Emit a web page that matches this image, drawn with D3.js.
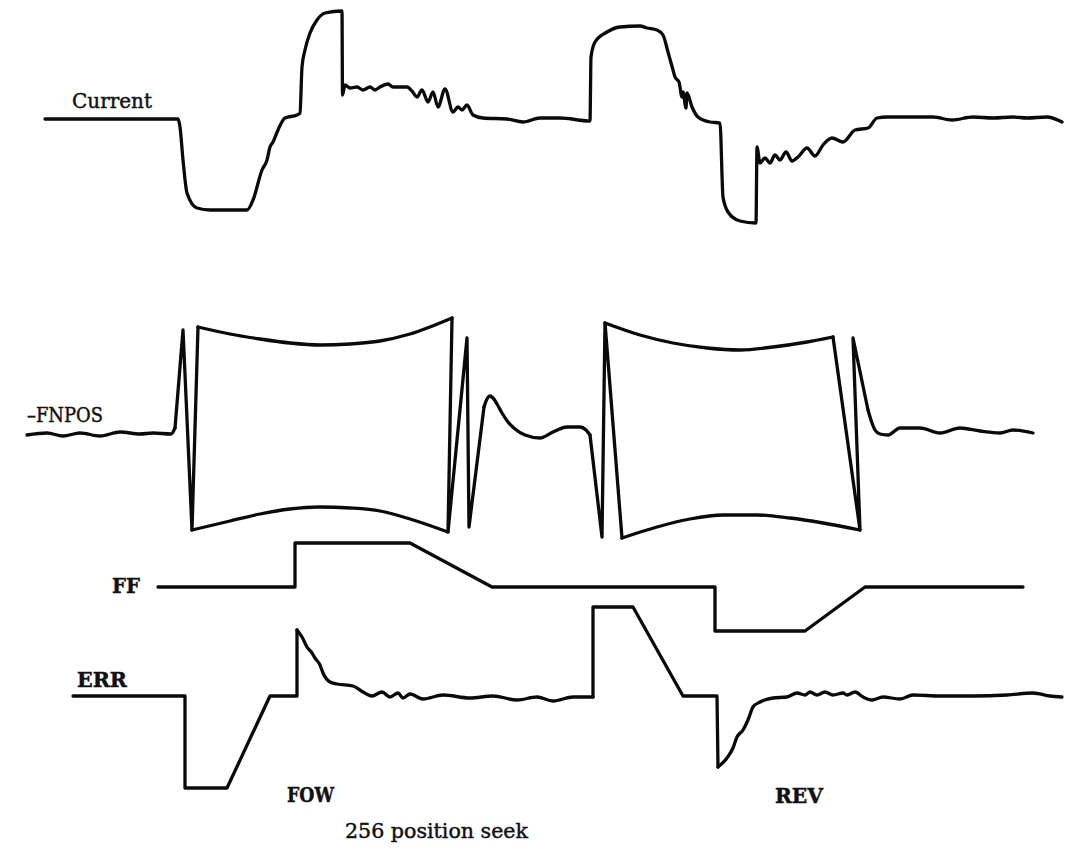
<!DOCTYPE html>
<html>
<head>
<meta charset="utf-8">
<script src="https://cdn.jsdelivr.net/npm/d3@7"></script>
<style>
  html, body { margin: 0; padding: 0; background: #fff; }
  svg { display: block; }
  text { font-family: "DejaVu Serif", "Liberation Serif", serif; fill: #111; stroke: #111; stroke-width: 0.45; }
</style>
</head>
<body>
<div id="chart"></div>
<script>
// Oscilloscope traces for a 256-position seek (forward, then reverse).
// Each point is [time (ms), level (div)].

const currentTrace = [
  [2.0, 0], [15.3, 0], [15.5, -0.8], [15.8, -4.1], [16.2, -7.4], [17.2, -8.9], [18.5, -9.1],
  [22.2, -9.1], [22.8, -8.1], [23.7, -5.1], [24.2, -4.1], [24.5, -2.8], [24.8, -2.3],
  [25.3, -1.1], [26.0, 0.1], [27.2, 0.4], [27.5, 0.6], [27.7, 5.2], [28.0, 6.9], [28.5, 8.6],
  [29.2, 9.9], [30.0, 10.6], [31.7, 10.8], [31.75, 2.4], [32.0, 3.4], [32.5, 3.1], [33.2, 3.2],
  [33.8, 2.9], [34.5, 3.2], [35.0, 2.9], [35.5, 3.2], [36.3, 3.5], [36.8, 3.2], [38.2, 3.2],
  [38.7, 2.8], [39.2, 2.2], [39.7, 2.9], [40.3, 1.7], [40.8, 2.7], [41.3, 1.2], [42.0, 3.0],
  [42.8, 0.7], [43.3, 1.2], [43.7, 0.9], [44.2, 1.4], [44.8, 0.4], [45.8, 0.1], [48.2, 0],
  [49.8, -0.3], [51.5, 0.1], [53.5, 0.1], [56.5, -0.2], [56.6, 6.2], [57.0, 7.7], [58.2, 8.7],
  [59.5, 9.2], [61.5, 9.3], [62.2, 9.1], [63.2, 8.9], [63.8, 8.4], [64.3, 6.7], [64.8, 4.9],
  [65.0, 4.2], [65.4, 3.7], [65.7, 2.2], [65.8, 2.7], [66.1, 1.1], [66.2, 2.6], [66.7, 1.2],
  [67.3, 0.2], [68.5, -0.3], [69.5, -0.4], [69.8, -7.8], [70.3, -9.3], [71.5, -10.2],
  [73.1, -10.4], [73.2, -2.8], [73.5, -4.4], [74.0, -3.9], [74.5, -4.4], [75.0, -3.6],
  [75.5, -4.1], [76.1, -3.3], [76.7, -4.2], [77.3, -3.8], [78.2, -2.9], [79.0, -3.7],
  [79.8, -2.6], [80.7, -1.9], [81.8, -2.3], [83.0, -1.1], [84.3, -0.9], [85.2, 0.1],
  [86.2, 0.2], [88.2, 0.2], [90.8, 0.2], [92.7, -0.1], [94.8, 0.2], [96.8, 0.1], [98.8, 0.2],
  [100.2, 0.1], [102.2, 0.2], [103.7, -0.3]
];

// -FNPOS: the fast position sweep shows as its envelope, so the trace is kept in
// pieces: smooth stretches and the straight sweep strokes between them.
const fnposLead = [
  [0.2, -0.2], [2.2, 0], [3.8, -0.3], [5.5, 0], [7.5, -0.3], [9.5, 0.1], [11.5, -0.1],
  [12.8, 0], [14.6, -0.1], [15.0, 0.5]
];
const fnposSweepFow = [[15.0, 0.5], [15.8, 10.3], [16.7, -9.7], [17.3, 10.6]];
const fnposUpperFow = [
  [17.3, 10.6], [20.5, 9.9], [23.5, 9.4], [26.5, 9.0], [29.5, 8.8], [32.5, 8.9],
  [35.5, 9.2], [38.5, 9.9], [42.7, 11.5]
];
const fnposLowerFow = [
  [16.7, -9.7], [20.5, -8.8], [23.5, -8.1], [26.5, -7.6], [29.5, -7.4], [32.5, -7.5],
  [35.5, -7.8], [38.5, -8.6], [42.3, -9.9]
];
const fnposReturnFow = [[42.7, 11.5], [42.3, -9.9], [44.2, 9.5], [44.4, -9.4], [45.9, 2.6]];
const fnposSettleFow = [
  [45.9, 2.6], [46.2, 3.4], [46.5, 3.7], [46.8, 3.5], [47.2, 2.9], [47.7, 2.0], [48.3, 1.1],
  [49.0, 0.4], [50.0, -0.2], [51.5, -0.5], [52.8, 0.1], [54.2, 0.6], [55.5, 0.6],
  [56.1, 0.3], [56.5, -0.2]
];
const fnposSweepRev = [[56.5, -0.2], [57.7, -10.4], [58.0, 11.0], [59.7, -10.5]];
const fnposUpperRev = [
  [58.0, 11.0], [61.5, 9.8], [64.8, 9.0], [68.2, 8.5], [71.5, 8.3], [74.8, 8.6],
  [78.2, 9.1], [80.8, 9.6]
];
const fnposLowerRev = [
  [59.7, -10.5], [63.2, -9.4], [66.5, -8.6], [69.8, -8.2], [73.2, -8.2], [76.5, -8.5],
  [79.8, -9.0], [83.5, -9.7]
];
const fnposReturnRev = [[80.8, 9.6], [83.5, -9.7], [82.8, 9.5], [84.3, 2.3]];
const fnposSettleRev = [
  [84.3, 2.3], [84.7, 1.0], [85.0, 0.3], [85.5, -0.1], [86.3, -0.2], [87.5, 0.5],
  [89.5, 0.5], [91.5, 0], [93.5, 0.5], [95.5, 0.2], [97.5, 0], [98.8, 0.3], [100.8, 0]
];

const ffTrace = [
  [13.3, 0], [27.0, 0], [27.0, 4.4], [38.5, 4.4], [46.7, 0], [69.0, 0], [69.0, -4.4],
  [78.0, -4.4], [84.0, 0], [99.8, 0]
];

// ERR: straight step-and-ramp stretches, then the ringing as it settles
const errStepFow = [
  [4.8, 0], [16.0, 0], [16.0, -9.2], [20.2, -9.2], [24.5, 0], [27.2, 0], [27.2, 6.6]
];
const errSettleFow = [
  [27.2, 6.6], [27.7, 5.9], [28.2, 4.9], [28.7, 4.3], [29.0, 3.8], [29.5, 3.1], [29.8, 2.3],
  [30.5, 1.4], [31.2, 1.2], [32.8, 1.0], [33.8, 0.4], [34.7, 0], [35.7, 0.4], [36.5, -0.1],
  [37.3, 0.3], [37.8, -0.2], [38.5, 0.2], [39.8, -0.3], [41.8, 0.1], [44.5, -0.2],
  [46.8, 0], [49.2, -0.4], [51.2, -0.1], [52.8, -0.5], [54.8, -0.1], [56.8, -0.1]
];
const errStepRev = [
  [56.8, -0.1], [56.8, 8.9], [60.8, 8.9], [65.8, 0], [69.2, 0], [69.3, -7.1]
];
const errSettleRev = [
  [69.3, -7.1], [70.2, -6.2], [70.8, -5.2], [71.2, -4.1], [71.8, -3.4], [72.3, -2.4],
  [72.8, -1.1], [73.5, -0.6], [74.8, -0.2], [76.2, -0.1], [77.2, 0.3], [78.0, 0.1],
  [78.5, 0.4], [79.2, 0.1], [80.0, 0.4], [80.8, 0.1], [81.8, 0.3], [82.2, 0.1], [83.0, 0.4],
  [83.8, -0.1], [84.7, -0.4], [85.8, -0.1], [87.5, -0.3], [88.8, 0.1], [91.5, 0],
  [94.8, 0], [98.2, 0.1], [100.8, 0.3], [102.5, 0], [103.7, -0.1]
];

const traceLabels = ["Current", "\u2013FNPOS", "FF", "ERR"];
const seekLabels = ["FOW", "REV"];
const caption = "256 position seek";

const width = 1065, height = 849;
const svg = d3.select("#chart").append("svg")
  .attr("width", width).attr("height", height);

const x = d3.scaleLinear().domain([0, 104]).range([25, 1065]);

// one vertical scale per trace, each centred on its own baseline
function bandScale(base) {
  return d3.scaleLinear().domain([-12, 12]).range([base + 120, base - 120]);
}
const yCurrent = bandScale(119);
const yFnpos = bandScale(433);
const yFf = bandScale(587);
const yErr = bandScale(696);

function draw(data, y, curve) {
  const line = d3.line().x(d => x(d[0])).y(d => y(d[1])).curve(curve || d3.curveLinear);
  svg.append("path")
    .attr("d", line(data))
    .attr("fill", "none")
    .attr("stroke", "#0a0a0a")
    .attr("stroke-width", 3.3)
    .attr("stroke-linejoin", "round")
    .attr("stroke-linecap", "round");
}

const smooth = d3.curveMonotoneX;

draw(currentTrace, yCurrent, smooth);

draw(fnposLead, yFnpos, smooth);
draw(fnposSweepFow, yFnpos);
draw(fnposUpperFow, yFnpos, smooth);
draw(fnposLowerFow, yFnpos, smooth);
draw(fnposReturnFow, yFnpos);
draw(fnposSettleFow, yFnpos, smooth);
draw(fnposSweepRev, yFnpos);
draw(fnposUpperRev, yFnpos, smooth);
draw(fnposLowerRev, yFnpos, smooth);
draw(fnposReturnRev, yFnpos);
draw(fnposSettleRev, yFnpos, smooth);

draw(ffTrace, yFf);

draw(errStepFow, yErr);
draw(errSettleFow, yErr, smooth);
draw(errStepRev, yErr);
draw(errSettleRev, yErr, smooth);

function label(txt, px, py, len, size, bold) {
  svg.append("text")
    .attr("x", px).attr("y", py)
    .attr("font-size", size)
    .attr("font-weight", bold ? "bold" : "normal")
    .attr("textLength", len)
    .attr("lengthAdjust", "spacingAndGlyphs")
    .text(txt);
}

label(traceLabels[0], 72, 108, 80, 20, false);
label(traceLabels[1], 27, 422, 76, 20, false);
label(traceLabels[2], 112, 593, 28, 21, true);
label(traceLabels[3], 77, 687, 50, 20, true);
label(seekLabels[0], 287, 802, 47, 20, true);
label(seekLabels[1], 775, 803, 48, 20, true);
label(caption, 345, 838, 183, 20, false);
</script>
</body>
</html>
